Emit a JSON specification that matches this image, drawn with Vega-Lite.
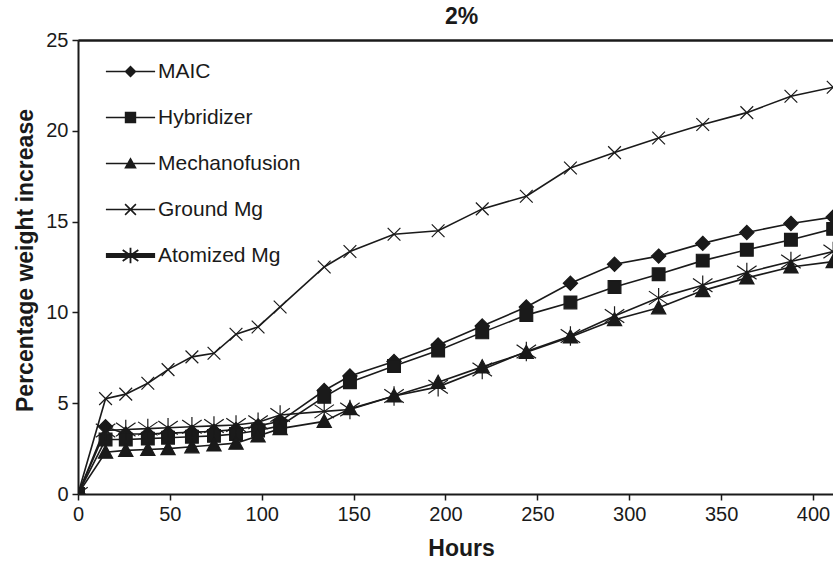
{
  "$schema": "https://vega.github.io/schema/vega-lite/v6.json",
  "autosize": "none",
  "padding": {"left": 78, "top": 40, "right": 0, "bottom": 68},
  "width": 755,
  "height": 454,
  "title": {"text": "2%", "anchor": "middle", "dx": 6, "offset": -17, "baseline": "alphabetic", "fontSize": 23, "font": "Liberation Sans", "fontWeight": "bold", "color": "#1a1a1a"},
  "config": {
    "view": {"stroke": null},
    "font": "Liberation Sans",
    "axis": {"grid": false, "labelFlush": false, "domainColor": "#1a1a1a", "tickColor": "#1a1a1a", "labelColor": "#1a1a1a", "titleColor": "#1a1a1a", "domainWidth": 2, "tickWidth": 1.5, "tickSize": 6, "labelFontSize": 20, "labelFont": "Liberation Sans", "titleFont": "Liberation Sans", "titleFontSize": 23, "titleFontWeight": "bold"}
  },
  "resolve": {"scale": {"shape": "independent", "strokeWidth": "independent"}, "legend": {"shape": "independent"}},
  "data": {"values": [
    {"series": "MAIC", "hours": 0, "pct": 0}, {"series": "MAIC", "hours": 15, "pct": 3.7}, {"series": "MAIC", "hours": 26, "pct": 3.3}, {"series": "MAIC", "hours": 38, "pct": 3.3}, {"series": "MAIC", "hours": 49, "pct": 3.35}, {"series": "MAIC", "hours": 62, "pct": 3.4}, {"series": "MAIC", "hours": 74, "pct": 3.45}, {"series": "MAIC", "hours": 86, "pct": 3.55}, {"series": "MAIC", "hours": 98, "pct": 3.75}, {"series": "MAIC", "hours": 110, "pct": 4.0}, {"series": "MAIC", "hours": 134, "pct": 5.7}, {"series": "MAIC", "hours": 148, "pct": 6.5}, {"series": "MAIC", "hours": 172, "pct": 7.3}, {"series": "MAIC", "hours": 196, "pct": 8.2}, {"series": "MAIC", "hours": 220, "pct": 9.25}, {"series": "MAIC", "hours": 244, "pct": 10.3}, {"series": "MAIC", "hours": 268, "pct": 11.6}, {"series": "MAIC", "hours": 292, "pct": 12.65}, {"series": "MAIC", "hours": 316, "pct": 13.1}, {"series": "MAIC", "hours": 340, "pct": 13.8}, {"series": "MAIC", "hours": 364, "pct": 14.4}, {"series": "MAIC", "hours": 388, "pct": 14.9}, {"series": "MAIC", "hours": 411, "pct": 15.25},
    {"series": "Hybridizer", "hours": 0, "pct": 0}, {"series": "Hybridizer", "hours": 15, "pct": 3.0}, {"series": "Hybridizer", "hours": 26, "pct": 3.0}, {"series": "Hybridizer", "hours": 38, "pct": 3.05}, {"series": "Hybridizer", "hours": 49, "pct": 3.1}, {"series": "Hybridizer", "hours": 62, "pct": 3.15}, {"series": "Hybridizer", "hours": 74, "pct": 3.2}, {"series": "Hybridizer", "hours": 86, "pct": 3.3}, {"series": "Hybridizer", "hours": 98, "pct": 3.5}, {"series": "Hybridizer", "hours": 110, "pct": 3.75}, {"series": "Hybridizer", "hours": 134, "pct": 5.35}, {"series": "Hybridizer", "hours": 148, "pct": 6.15}, {"series": "Hybridizer", "hours": 172, "pct": 7.05}, {"series": "Hybridizer", "hours": 196, "pct": 7.9}, {"series": "Hybridizer", "hours": 220, "pct": 8.9}, {"series": "Hybridizer", "hours": 244, "pct": 9.85}, {"series": "Hybridizer", "hours": 268, "pct": 10.55}, {"series": "Hybridizer", "hours": 292, "pct": 11.4}, {"series": "Hybridizer", "hours": 316, "pct": 12.1}, {"series": "Hybridizer", "hours": 340, "pct": 12.85}, {"series": "Hybridizer", "hours": 364, "pct": 13.45}, {"series": "Hybridizer", "hours": 388, "pct": 14.0}, {"series": "Hybridizer", "hours": 411, "pct": 14.6},
    {"series": "Mechanofusion", "hours": 0, "pct": 0}, {"series": "Mechanofusion", "hours": 15, "pct": 2.3}, {"series": "Mechanofusion", "hours": 26, "pct": 2.4}, {"series": "Mechanofusion", "hours": 38, "pct": 2.45}, {"series": "Mechanofusion", "hours": 49, "pct": 2.5}, {"series": "Mechanofusion", "hours": 62, "pct": 2.6}, {"series": "Mechanofusion", "hours": 74, "pct": 2.7}, {"series": "Mechanofusion", "hours": 86, "pct": 2.8}, {"series": "Mechanofusion", "hours": 98, "pct": 3.2}, {"series": "Mechanofusion", "hours": 110, "pct": 3.6}, {"series": "Mechanofusion", "hours": 134, "pct": 4.0}, {"series": "Mechanofusion", "hours": 148, "pct": 4.7}, {"series": "Mechanofusion", "hours": 172, "pct": 5.4}, {"series": "Mechanofusion", "hours": 196, "pct": 6.15}, {"series": "Mechanofusion", "hours": 220, "pct": 7.0}, {"series": "Mechanofusion", "hours": 244, "pct": 7.8}, {"series": "Mechanofusion", "hours": 268, "pct": 8.65}, {"series": "Mechanofusion", "hours": 292, "pct": 9.6}, {"series": "Mechanofusion", "hours": 316, "pct": 10.25}, {"series": "Mechanofusion", "hours": 340, "pct": 11.2}, {"series": "Mechanofusion", "hours": 364, "pct": 11.9}, {"series": "Mechanofusion", "hours": 388, "pct": 12.5}, {"series": "Mechanofusion", "hours": 411, "pct": 12.8},
    {"series": "Ground Mg", "hours": 0, "pct": 0}, {"series": "Ground Mg", "hours": 15, "pct": 5.25}, {"series": "Ground Mg", "hours": 26, "pct": 5.5}, {"series": "Ground Mg", "hours": 38, "pct": 6.1}, {"series": "Ground Mg", "hours": 49, "pct": 6.85}, {"series": "Ground Mg", "hours": 62, "pct": 7.55}, {"series": "Ground Mg", "hours": 74, "pct": 7.75}, {"series": "Ground Mg", "hours": 86, "pct": 8.8}, {"series": "Ground Mg", "hours": 98, "pct": 9.2}, {"series": "Ground Mg", "hours": 110, "pct": 10.3}, {"series": "Ground Mg", "hours": 134, "pct": 12.5}, {"series": "Ground Mg", "hours": 148, "pct": 13.35}, {"series": "Ground Mg", "hours": 172, "pct": 14.3}, {"series": "Ground Mg", "hours": 196, "pct": 14.5}, {"series": "Ground Mg", "hours": 220, "pct": 15.7}, {"series": "Ground Mg", "hours": 244, "pct": 16.4}, {"series": "Ground Mg", "hours": 268, "pct": 17.95}, {"series": "Ground Mg", "hours": 292, "pct": 18.8}, {"series": "Ground Mg", "hours": 316, "pct": 19.6}, {"series": "Ground Mg", "hours": 340, "pct": 20.35}, {"series": "Ground Mg", "hours": 364, "pct": 21.0}, {"series": "Ground Mg", "hours": 388, "pct": 21.9}, {"series": "Ground Mg", "hours": 411, "pct": 22.4},
    {"series": "Atomized Mg", "hours": 0, "pct": 0}, {"series": "Atomized Mg", "hours": 15, "pct": 3.5}, {"series": "Atomized Mg", "hours": 26, "pct": 3.55}, {"series": "Atomized Mg", "hours": 38, "pct": 3.6}, {"series": "Atomized Mg", "hours": 49, "pct": 3.65}, {"series": "Atomized Mg", "hours": 62, "pct": 3.7}, {"series": "Atomized Mg", "hours": 74, "pct": 3.75}, {"series": "Atomized Mg", "hours": 86, "pct": 3.8}, {"series": "Atomized Mg", "hours": 98, "pct": 3.95}, {"series": "Atomized Mg", "hours": 110, "pct": 4.35}, {"series": "Atomized Mg", "hours": 134, "pct": 4.55}, {"series": "Atomized Mg", "hours": 148, "pct": 4.65}, {"series": "Atomized Mg", "hours": 172, "pct": 5.4}, {"series": "Atomized Mg", "hours": 196, "pct": 5.9}, {"series": "Atomized Mg", "hours": 220, "pct": 6.85}, {"series": "Atomized Mg", "hours": 244, "pct": 7.85}, {"series": "Atomized Mg", "hours": 268, "pct": 8.7}, {"series": "Atomized Mg", "hours": 292, "pct": 9.8}, {"series": "Atomized Mg", "hours": 316, "pct": 10.8}, {"series": "Atomized Mg", "hours": 340, "pct": 11.5}, {"series": "Atomized Mg", "hours": 364, "pct": 12.2}, {"series": "Atomized Mg", "hours": 388, "pct": 12.8}, {"series": "Atomized Mg", "hours": 411, "pct": 13.35}
  ]},
  "layer": [
    {
      "mark": {"type": "line", "color": "#1a1a1a", "clip": true},
      "encoding": {
        "x": {"field": "hours", "type": "quantitative", "scale": {"domain": [0, 410.9], "nice": false, "zero": false}, "axis": {"orient": "bottom", "values": [0, 50, 100, 150, 200, 250, 300, 350, 400], "labelPadding": 4, "title": "Hours", "titleX": 383, "titleY": 54, "titleAlign": "center", "titleBaseline": "middle"}},
        "y": {"field": "pct", "type": "quantitative", "scale": {"domain": [0, 25], "nice": false}, "axis": {"values": [0, 5, 10, 15, 20, 25], "labelPadding": 4, "title": "Percentage weight increase", "titleAngle": -90, "titleX": -53, "titleY": 220, "titleAlign": "center", "titleBaseline": "middle"}},
        "detail": {"field": "series", "type": "nominal"},
        "strokeWidth": {"field": "series", "type": "nominal", "scale": {"domain": ["MAIC", "Hybridizer", "Mechanofusion", "Ground Mg", "Atomized Mg"], "range": [1.6, 1.6, 1.6, 1.6, 5.5]}, "legend": null}
      }
    },
    {
      "mark": {"type": "point", "filled": true, "color": "#1a1a1a", "stroke": "#1a1a1a", "opacity": 1, "size": 225, "clip": true},
      "encoding": {
        "x": {"field": "hours", "type": "quantitative", "axis": {"orient": "top", "labels": false, "ticks": false, "title": null, "domainWidth": 2}},
        "y": {"field": "pct", "type": "quantitative"},
        "strokeWidth": {"field": "series", "type": "nominal", "scale": {"domain": ["MAIC", "Hybridizer", "Mechanofusion", "Ground Mg", "Atomized Mg"], "range": [1.2, 1.2, 1.2, 1.6, 2.2]}, "legend": null},
        "shape": {"field": "series", "type": "nominal",
          "scale": {"domain": ["MAIC", "Hybridizer", "Mechanofusion", "Ground Mg", "Atomized Mg"],
            "range": ["M0,-0.95L0.95,0L0,0.95L-0.95,0Z", "M-0.85,-0.85H0.85V0.85H-0.85Z", "M0,-0.95L0.95,0.8H-0.95Z", "M-0.85,-0.85L0.85,0.85M-0.85,0.85L0.85,-0.85", "M-1.3,-0.9L1.3,0.9M-1.3,0.9L1.3,-0.9M0,-1.3V1.3"]},
          "legend": null
        }
      }
    },
    {
      "mark": {"type": "point", "filled": true, "color": "#1a1a1a", "opacity": 0},
      "encoding": {
        "x": {"field": "hours", "type": "quantitative", "axis": {"orient": "top", "labels": false, "ticks": false, "title": null, "domainWidth": 2}},
        "y": {"field": "pct", "type": "quantitative"},
        "shape": {"field": "series", "type": "nominal",
          "scale": {"domain": ["MAIC", "Hybridizer", "Mechanofusion", "Ground Mg", "Atomized Mg"],
            "range": [
              "M-4.1,-0.13H4.1V0.13H-4.1ZM0,-1L1,0L0,1L-1,0Z",
              "M-4.1,-0.13H4.1V0.13H-4.1ZM-0.95,-0.95H0.95V0.95H-0.95Z",
              "M-4.1,-0.13H4.1V0.13H-4.1ZM0,-1.05L1.05,0.85H-1.05Z",
              "M-4.1,-0.13H4.1V0.13H-4.1ZM-0.808,-0.992L0.992,0.808L0.808,0.992L-0.992,-0.808ZM-0.992,0.808L0.808,-0.992L0.992,-0.808L-0.808,0.992Z",
              "M-4.1,-0.4H4.1V0.4H-4.1ZM-0.15,-1.3H0.15V1.3H-0.15ZM-1.215,-1.023L1.385,0.777L1.215,1.023L-1.385,-0.777ZM-1.385,0.777L1.215,-1.023L1.385,-0.777L-1.215,1.023Z"
            ]},
          "legend": {"orient": "none", "legendX": 42, "legendY": 21, "title": null, "labelFontSize": 21, "labelFont": "Liberation Sans", "labelColor": "#1a1a1a", "labelOffset": 17, "rowPadding": 24, "symbolSize": 144, "symbolOpacity": 1, "symbolFillColor": "#1a1a1a", "symbolStrokeWidth": 0}
        }
      }
    }
  ]
}
